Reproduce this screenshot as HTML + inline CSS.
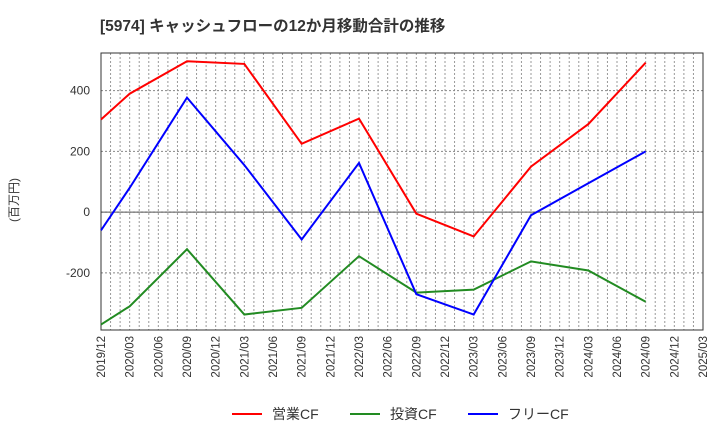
<!DOCTYPE html><html><head><meta charset="utf-8"><style>body{margin:0;background:#fff}svg{font-family:"Liberation Sans","Noto Sans CJK JP",sans-serif}</style></head><body>
<svg id="c" width="720" height="440"></svg>
<script>
const categories=["2019/12","2020/03","2020/06","2020/09","2020/12","2021/03","2021/06","2021/09","2021/12","2022/03","2022/06","2022/09","2022/12","2023/03","2023/06","2023/09","2023/12","2024/03","2024/06","2024/09","2024/12","2025/03"];
const pointIdx=[0,1,3,5,7,9,11,13,15,17,19];
const opCF=[305,390,497,488,225,308,-5,-80,150,290,492];
const invCF=[-370,-310,-122,-337,-315,-145,-265,-255,-162,-192,-295];
const freeCF=[-60,80,377,155,-90,162,-270,-337,-10,95,200];
const yTicks=[400,200,0,-200];
const svg=document.getElementById('c');const NS='http://www.w3.org/2000/svg';
const L=101,R=703,T=53,B=330,yMax=524,yMin=-388;
const x=i=>L+(R-L)*i/(categories.length-1);
const y=v=>T+(yMax-v)/(yMax-yMin)*(B-T);
function mk(t,a,p){const e=document.createElementNS(NS,t);for(const k in a)e.setAttribute(k,a[k]);(p||svg).appendChild(e);return e;}
let t=mk('text',{x:100,y:31,'font-size':15.5,'font-weight':'bold',fill:'#333'});t.textContent='[5974]  キャッシュフローの12か月移動合計の推移';


for(let m=1;m<63;m++){const xx=L+(R-L)*m/63;const g=mk('line',{x1:xx,x2:xx,y1:T,y2:B,stroke:'#999','stroke-dasharray':'2,2','stroke-width':1});

}
yTicks.forEach(v=>{const g=mk('line',{x1:L,x2:R,y1:y(v),y2:y(v),stroke:'#888','stroke-dasharray':'2,2'});


const l=mk('text',{x:90,y:y(v)+4,'text-anchor':'end','font-size':12,fill:'#333'});l.textContent=v;

});
const z=mk('line',{x1:L,x2:R,y1:y(0),y2:y(0),stroke:'#555'});


const fr=mk('rect',{x:L,y:T,width:R-L,height:B-T,fill:'none',stroke:'#333'});


categories.forEach((c,i)=>{const l=mk('text',{transform:`translate(${x(i)+4},${B+6}) rotate(-90)`,'text-anchor':'end','font-size':11.5,fill:'#333'});l.textContent=c;

});
const yt=mk('text',{transform:'translate(18,200) rotate(-90)','text-anchor':'middle','font-size':12,fill:'#333'});yt.textContent='(百万円)';


[[opCF,'#f00','operating-cf-line'],[invCF,'#228B22','investing-cf-line'],[freeCF,'#00f','free-cf-line']].forEach(([d,c,n])=>{
const p=mk('polyline',{points:d.map((v,i)=>x(pointIdx[i])+','+y(v)).join(' '),fill:'none',stroke:c,'stroke-width':2});

});
[['営業CF','#f00',232],['投資CF','#228B22',350],['フリーCF','#00f',468]].forEach(([s,c,lx])=>{
const g=mk('g',{});

mk('line',{x1:lx,x2:lx+30,y1:414,y2:414,stroke:c,'stroke-width':2},g);
const tt=mk('text',{x:lx+40,y:419,'font-size':14,fill:'#333'},g);tt.textContent=s;});
</script></body></html>
